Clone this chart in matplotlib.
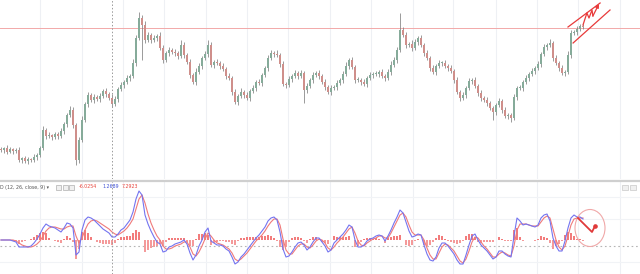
import matplotlib
matplotlib.use("Agg")
import matplotlib.pyplot as plt
from matplotlib.patches import Rectangle, Ellipse
import numpy as np

# ---------------- data ----------------
closes = [
    30, 32, 28, 31, 29, 30, 20, 22, 19, 21, 20, 23, 25, 32, 50,
    44, 45, 43, 46, 44, 49, 56, 65, 70, 55, 20, 40, 60, 76, 85,
    80, 83, 81, 84, 89, 86, 82, 76, 81, 91, 95, 98, 102, 104, 117,
    142, 162, 155, 140, 145, 140, 142, 144, 132, 120, 127, 130, 128, 127, 124,
    135, 125, 118, 105, 98, 108, 114, 122, 126, 135, 115, 118, 117, 114, 111,
    104, 102, 88, 78, 84, 88, 85, 82, 89, 92, 98, 97, 105, 112, 122,
    127, 126, 125, 116, 96, 95, 101, 104, 107, 104, 107, 90, 94, 100, 105,
    107, 104, 98, 93, 88, 92, 93, 97, 100, 106, 114, 120, 113, 100, 100,
    98, 96, 102, 105, 106, 106, 108, 104, 102, 108, 115, 120, 130, 150, 145,
    135, 136, 132, 138, 142, 135, 127, 122, 112, 108, 114, 117, 117, 114, 112,
    109, 100, 88, 82, 85, 92, 99, 100, 94, 87, 82, 80, 77, 72, 68,
    75, 79, 70, 64, 65, 62, 83, 92, 92, 98, 102, 106, 109, 112, 116,
    126, 133, 135, 137, 122, 117, 112, 107, 108, 125, 147, 148, 151, 154, 153,
]
wick_up = [
    2, 1, 3, 2, 1, 2, 3, 1, 2, 2, 1, 3, 2, 2, 4,
    2, 3, 1, 2, 2, 3, 2, 2, 4, 3, 2, 3, 4, 2, 3,
    2, 3, 2, 3, 2, 3, 2, 4, 3, 2, 3, 2, 3, 2, 4,
    3, 6, 3, 4, 3, 2, 3, 2, 4, 3, 2, 3, 2, 3, 2,
    5, 3, 2, 3, 2, 4, 3, 2, 3, 5, 3, 2, 3, 2, 3,
    2, 3, 2, 3, 2, 4, 2, 3, 2, 3, 2, 3, 2, 2, 3,
    3, 2, 4, 2, 3, 2, 3, 2, 3, 2, 3, 2, 3, 2, 3,
    2, 3, 2, 3, 2, 3, 2, 3, 2, 3, 4, 2, 3, 2, 3,
    2, 3, 2, 3, 2, 3, 2, 3, 2, 3, 4, 3, 3, 17, 3,
    3, 2, 4, 3, 2, 3, 2, 3, 2, 3, 2, 3, 2, 3, 2,
    3, 2, 3, 2, 3, 2, 3, 2, 3, 2, 3, 2, 3, 2, 2,
    2, 3, 2, 3, 2, 2, 3, 2, 3, 2, 3, 2, 3, 2, 3,
    2, 3, 2, 4, 2, 3, 2, 3, 2, 4, 3, 2, 3, 2, 2,
]
wick_dn = [
    2, 3, 2, 1, 3, 2, 2, 3, 2, 3, 2, 2, 3, 2, 2,
    3, 2, 3, 2, 3, 2, 3, 3, 2, 3, 5, 3, 2, 2, 3,
    2, 3, 2, 3, 2, 3, 2, 3, 2, 3, 2, 3, 2, 3, 2,
    3, 2, 35, 3, 2, 3, 2, 3, 2, 3, 2, 3, 2, 3, 3,
    2, 3, 2, 3, 2, 3, 2, 3, 2, 3, 2, 3, 2, 3, 2,
    3, 2, 3, 2, 3, 2, 3, 2, 3, 2, 3, 2, 3, 2, 3,
    2, 3, 2, 3, 2, 3, 2, 3, 2, 3, 2, 13, 3, 2, 3,
    2, 3, 2, 3, 2, 3, 2, 3, 2, 3, 2, 3, 2, 3, 2,
    3, 2, 3, 2, 3, 2, 3, 2, 3, 2, 3, 2, 3, 2, 2,
    3, 2, 3, 2, 3, 2, 3, 2, 3, 2, 3, 2, 3, 2, 3,
    2, 3, 2, 3, 2, 3, 2, 3, 2, 3, 3, 2, 3, 2, 8,
    3, 2, 3, 2, 3, 4, 2, 3, 2, 3, 2, 3, 2, 3, 2,
    3, 2, 3, 2, 3, 2, 3, 2, 3, 2, 3, 2, 3, 2, 2,
]
macd = [
    0, 0, 0, 0, -1, -2, -7, -7, -7, -7, -6, -3, 1, 6, 12,
    16, 14, 13, 12, 10, 8, 12, 17, 16, 12, -15, -12, 10, 20, 23,
    22, 20, 17, 14, 11, 9, 7, 3, 3, 6, 10, 12, 16, 20, 28,
    41, 49, 45, 25, 16, 9, 3, -2, -4, -12, -11, -7, -6, -4, -3,
    -2, 0, -4, -13, -20, -15, -6, 0, 8, 12, -1, -3, -5, -5, -6,
    -9, -11, -17, -24, -22, -17, -14, -10, -6, -2, 2, 5, 9, 13, 19,
    22, 23, 20, 8, -9, -17, -16, -12, -7, -3, -2, -5, -10, -7, -2,
    2, 2, -2, -6, -12, -10, -3, 0, 3, 6, 10, 15, 13, 0, -7,
    -7, -5, -1, 1, 2, 4, 5, 4, -1, 4, 10, 17, 23, 30, 27,
    18, 9, 3, 4, 6, 5, -5, -14, -20, -21, -17, -8, -3, -3, -6,
    -10, -14, -20, -24, -24, -15, -5, 4, 6, 0, -5, -8, -11, -15, -19,
    -17, -11, -11, -14, -16, -17, 4, 22, 19, 15, 16, 15, 14, 13, 15,
    22, 25, 26, 19, 2, -6, -11, -11, -1, 12, 22, 25, 23, 23, 21,
]
signal = [
    0, 0, 0, 0, 0, -1, -3, -5, -6, -7, -7, -6, -4, -1, 4,
    9, 12, 13, 13, 12, 11, 11, 13, 14, 14, 4, -3, 2, 10, 16,
    19, 20, 19, 17, 15, 13, 11, 8, 6, 5, 7, 9, 12, 16, 21,
    31, 41, 45, 37, 26, 17, 10, 4, 0, -6, -9, -9, -8, -6, -5,
    -4, -2, -2, -7, -14, -16, -12, -6, 1, 7, 4, 0, -3, -4, -5,
    -7, -9, -13, -19, -21, -19, -16, -13, -9, -5, -1, 2, 5, 9, 14,
    18, 21, 21, 15, 1, -10, -14, -14, -10, -6, -4, -4, -7, -8, -5,
    -1, 1, 0, -3, -8, -10, -7, -3, 0, 3, 7, 11, 13, 7, -1,
    -5, -6, -3, -1, 1, 2, 4, 4, 2, 2, 7, 13, 19, 25, 27,
    23, 15, 8, 5, 5, 5, 0, -8, -15, -19, -19, -13, -7, -4, -5,
    -8, -11, -16, -21, -23, -19, -11, -2, 3, 2, -2, -6, -9, -13, -17,
    -17, -14, -12, -13, -15, -16, -6, 10, 16, 16, 16, 15, 14, 14, 14,
    18, 22, 24, 22, 11, 0, -7, -10, -6, 4, 15, 21, 22, 22, 22,
]
resistance_level = 152
legend_name = "D (12, 26, close, 9) \u25be"
legend_values = ["-6.0254", "1.2689", "7.2923"]

# drawings (index, value)
channel_upper = [(189.0, 153), (199.7, 177)]
channel_lower = [(190.7, 137), (203.0, 170)]
zigzag = [(194.0, 155), (195.3, 167), (196.0, 162), (197.0, 170), (197.3, 164), (199.3, 176)]
macd_arrow = [(192.3, 22), (197.0, 8), (198.0, 14)]

# ---------------- figure ----------------
W, H = 640, 274
fig = plt.figure(figsize=(W / 100, H / 100), dpi=100)
fig.patch.set_facecolor("white")

def px2i(p):
    return (p - 1) / 3.0

xlim = (px2i(0), px2i(W))
ax1 = fig.add_axes([0, 1 - 179 / H, 1, 179 / H])
ax2 = fig.add_axes([0, 0, 1, 93 / H])
for ax in (ax1, ax2):
    ax.set_xlim(*xlim)
    ax.set_xticks([]); ax.set_yticks([])
    for s in ax.spines.values():
        s.set_visible(False)
    ax.set_facecolor("white")
ax1.set_ylim(1, 180)
ax2.set_ylim(-34, 59)

grid_px = [40, 82, 123, 164, 206, 247, 288, 330, 371, 413, 453, 496, 537, 578, 620]
for ax in (ax1, ax2):
    for g in grid_px:
        ax.axvline(px2i(g), color="#eef0f4", lw=0.8, zorder=0)
for yy in [197, 219, 262]:
    ax2.axhline(240 - yy, color="#f1f3f6", lw=0.8, zorder=0)

# candles
n = len(closes)
idx = np.arange(n)
opens = [closes[0] + 1] + closes[:-1]
for i in range(n):
    o, c = opens[i], closes[i]
    hi = max(o, c) + wick_up[i]
    lo = min(o, c) - wick_dn[i]
    up = c >= o
    col = "#86ab9a" if up else "#cf8f8b"
    ax1.vlines(i, lo, hi, color="#808080", lw=0.55, zorder=2)
    ax1.bar(i, max(abs(c - o), 0.8), bottom=min(o, c), width=0.38,
            color=col, edgecolor="none", zorder=3)

ax1.axhline(resistance_level, color="#f2a9a9", lw=0.7, zorder=1)

# channel drawing
for seg in (channel_upper, channel_lower):
    xs, ys = zip(*seg)
    ax1.plot(xs, ys, color="#e83a3a", lw=0.9, zorder=5)
zx, zy = zip(*zigzag)
ax1.plot(zx[:-1], zy[:-1], color="#e83a3a", lw=0.9, zorder=5)
ax1.annotate("", xy=zigzag[-1], xytext=zigzag[-2],
             arrowprops=dict(arrowstyle="-|>", color="#e83a3a", lw=0.9,
                             mutation_scale=5, shrinkA=0, shrinkB=0))

# MACD pane
hist = [m - s for m, s in zip(macd, signal)]
hcol = ["#f27c7c" if h >= 0 else "#f49a9a" for h in hist]
ax2.bar(idx, hist, width=0.9, color=hcol, edgecolor="none", zorder=2)
ax2.plot(idx, signal, color="#f07a7a", lw=0.8, zorder=3)
ax2.plot(idx, macd, color="#7474f0", lw=0.8, zorder=4)
ax2.axhline(240 - 246, color="#b5b5b5", lw=0.8, ls=(0, (1.5, 2.5)), zorder=1)

mx, my = zip(*macd_arrow)
ax2.plot(mx, my, color="#e03a3a", lw=1.3, zorder=6)
ax2.plot([mx[-1]], [my[-1]], marker="o", ms=2.3, color="#e03a3a", zorder=6)
ax2.add_patch(Ellipse((px2i(590), 240 - 228), width=30 / 3, height=37,
                      fill=False, edgecolor="#f0a8a8", lw=0.8, zorder=5))

# crosshair
for ax in (ax1, ax2):
    ax.axvline(px2i(112), color="#9a9a9a", lw=0.7, ls=(0, (1.5, 2)), zorder=7)

# separator
fig.add_artist(plt.Line2D([0, 1], [1 - 180.5 / H] * 2, color="#cfcfcf", lw=1.6,
                          transform=fig.transFigure))

# legend text
def ftext(x, y, s, color, **kw):
    fig.text(x / W, 1 - y / H, s, color=color, fontsize=3.4, va="center",
             ha="left", family="DejaVu Sans", **kw)

ftext(0, 187, legend_name, "#555555")
for bx in [56, 62.5, 69]:
    fig.add_artist(Rectangle((bx / W, 1 - 190 / H), 5 / W, 5 / H,
                             transform=fig.transFigure, facecolor="#f0f0f0",
                             edgecolor="#b0b0b0", lw=0.5))
for bx in [622, 630]:
    fig.add_artist(Rectangle((bx / W, 1 - 190 / H), 6 / W, 5 / H,
                             transform=fig.transFigure, facecolor="#f0f0f0",
                             edgecolor="#c8c8c8", lw=0.5))
ftext(79, 187, legend_values[0], "#e8453c")
ftext(102, 187, legend_values[1], "#3f51d5")
ftext(122, 187, legend_values[2], "#e8453c")

fig.savefig("out.png", dpi=100, facecolor="white")
